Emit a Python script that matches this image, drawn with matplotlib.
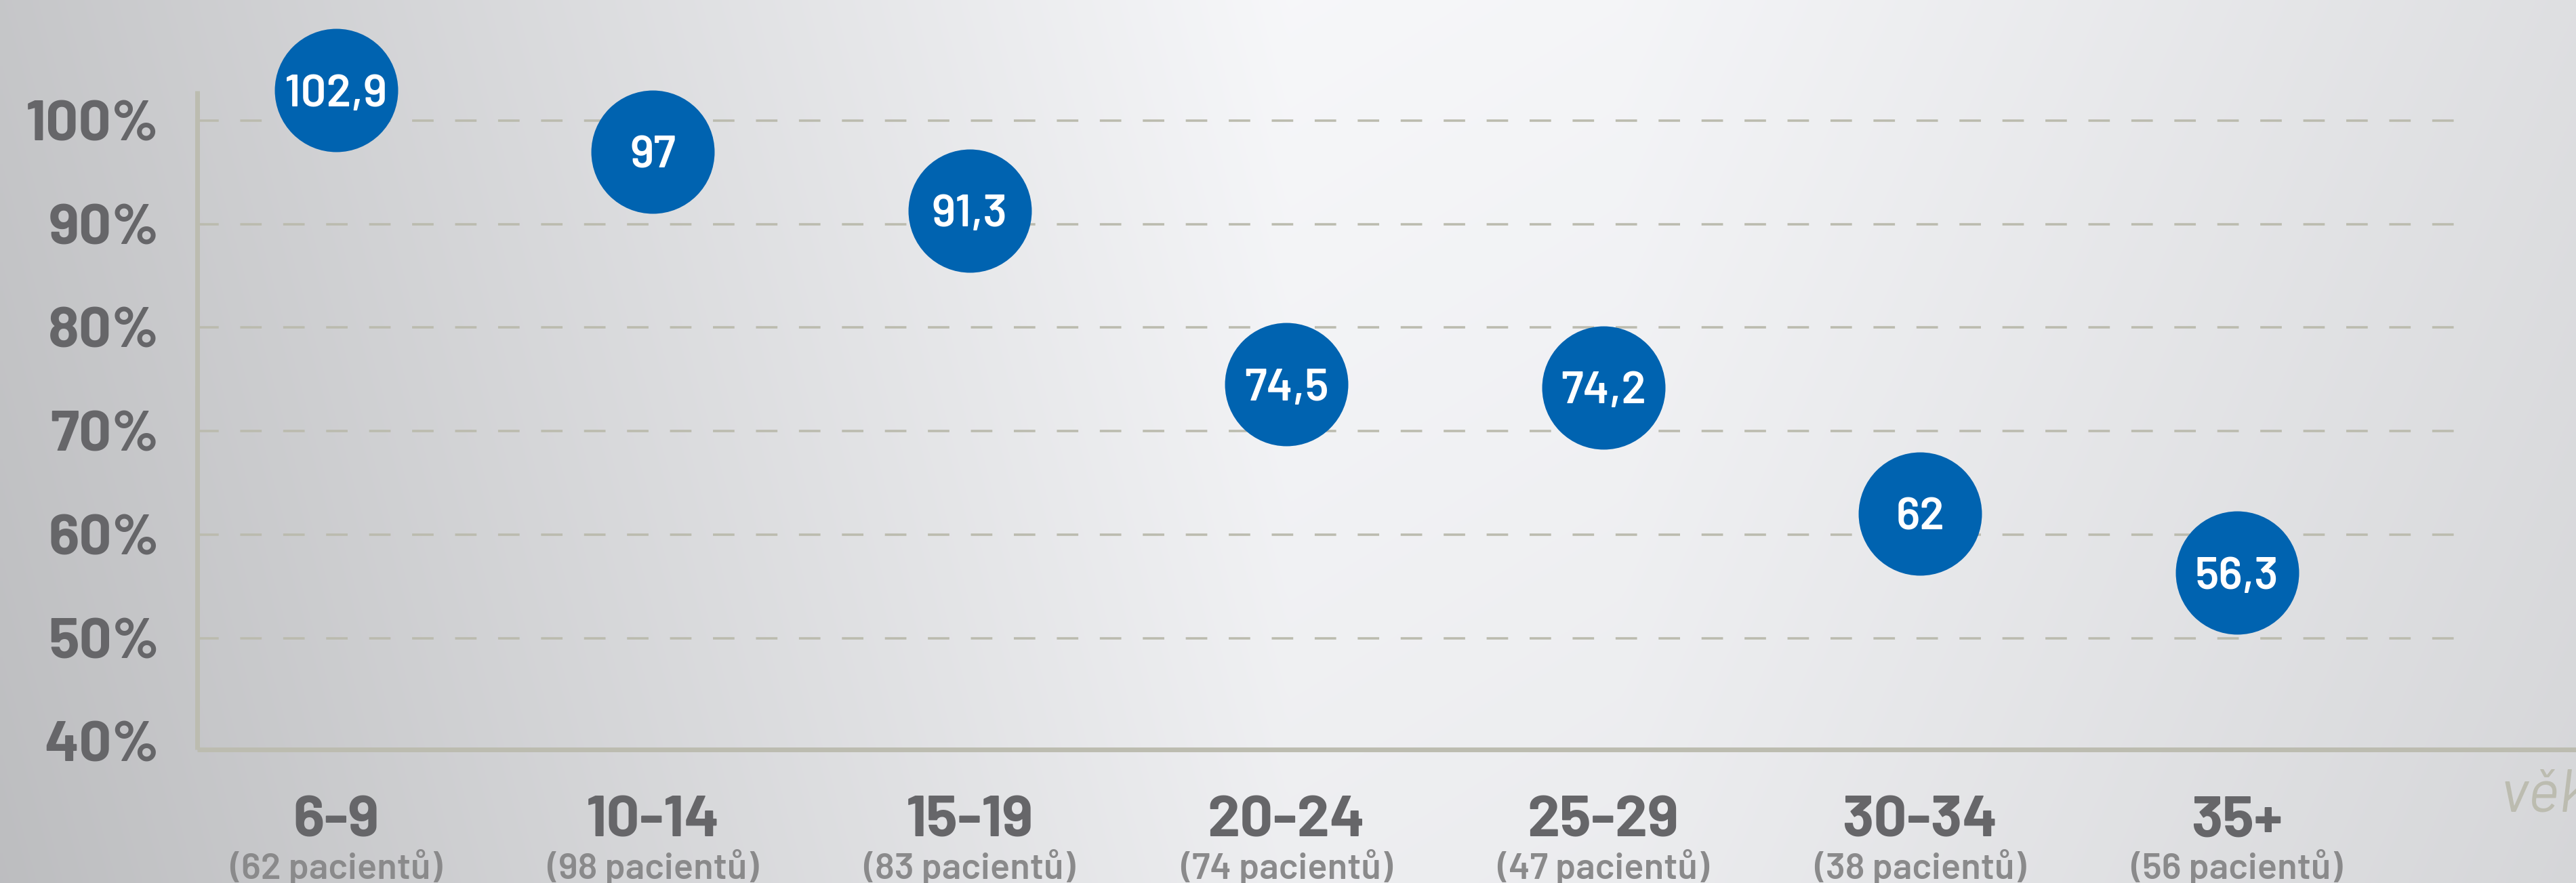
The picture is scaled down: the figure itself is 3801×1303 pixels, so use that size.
import numpy as np
import matplotlib
matplotlib.use("Agg")
import matplotlib.pyplot as plt
from matplotlib import font_manager as fm

# ---------------- data ----------------
categories = ["6-9", "10-14", "15-19", "20-24", "25-29", "30-34", "35+"]
patients = [62, 98, 83, 74, 47, 38, 56]
values = [102.9, 97, 91.3, 74.5, 74.2, 62, 56.3]
y_ticks = [40, 50, 60, 70, 80, 90, 100]
grid_levels = [50, 60, 70, 80, 90, 100]
axis_label = "věk"

# ---------------- fonts ----------------
avail = {f.name for f in fm.fontManager.ttflist}
def pick(*names):
    for n in names:
        if n in avail:
            return n
    return "DejaVu Sans"
FONT = pick("Barlow", "Barlow Semi Condensed", "Fira Sans", "Roboto")
plt.rcParams["font.family"] = [FONT, "DejaVu Sans"]

BLUE = "#0063b0"
AXC = "#bcbcb0"
GRIDC = "#bbbbae"
LBL = "#666669"
SUB = "#8a8a8b"

W, H, DPI = 3801, 1303, 100
fig = plt.figure(figsize=(W / DPI, H / DPI), dpi=DPI)

# ---------------- background gradient ----------------
bg = fig.add_axes([0, 0, 1, 1], zorder=-10)
gx = np.linspace(0, 1, 500)
gy = np.linspace(0, 1, 200)
GX, GY = np.meshgrid(gx, gy)
base = np.interp(GX, [0.0, 0.5, 0.63, 1.0], [0.776, 0.966, 0.958, 0.872])
Lum = base - 0.035 * GY
rgb = np.dstack([Lum, Lum + 0.003, Lum + 0.012]).clip(0, 1)
bg.imshow(rgb, extent=[0, 1, 0, 1], origin="upper", aspect="auto", interpolation="bilinear")
bg.set_axis_off()

# ---------------- main axes ----------------
left = 291 / W
bottom = 1 - 1105.5 / H
top = 1 - 134 / H
ax = fig.add_axes([left, bottom, 1 - left, top - bottom])
ax.patch.set_alpha(0)

x = np.arange(len(categories))
x0, x1 = -0.438, 7.07
ax.set_xlim(x0, x1)
ax.set_ylim(39.28, 102.86)

for s in ["top", "right"]:
    ax.spines[s].set_visible(False)
for s in ["left", "bottom"]:
    ax.spines[s].set_color(AXC)
    ax.spines[s].set_linewidth(5.0)
    ax.spines[s].set_capstyle("butt")

# dashed gridlines
for g in grid_levels:
    ax.plot([x0, 6.684], [g, g], color=GRIDC, lw=2.52, dashes=(9.06, 9.06),
            solid_capstyle="butt", dash_capstyle="butt", zorder=1)

# y ticks
ax.set_yticks(y_ticks, [f"{t}%" for t in y_ticks])
ax.tick_params(axis="y", length=0, pad=40.5, labelsize=61, labelcolor=LBL)
for t in ax.get_yticklabels():
    t.set_fontweight("bold")

# x ticks (drawn as texts below the axis)
ax.set_xticks(x, [""] * len(x))
ax.tick_params(axis="x", length=0)
xt = ax.get_xaxis_transform()
for xi, cat, n in zip(x, categories, patients):
    ax.text(xi, -0.1325, cat, transform=xt, ha="center", va="baseline",
            fontsize=62, fontweight="bold", color=LBL, clip_on=False)
    ax.text(xi, -0.1975, f"({n} pacientů)", transform=xt, ha="center", va="baseline",
            fontsize=39, fontweight="semibold", color=SUB, clip_on=False)

# axis label (partially cut at right edge, as in reference)
ax.text(6.832, -0.0952, axis_label, transform=xt, ha="left", va="baseline",
        fontsize=64, style="italic", color=AXC, clip_on=False)

# points
ax.plot(x, values, "o", ms=131, color=BLUE, mec="none", clip_on=False, zorder=3)
for xi, v in zip(x, values):
    ax.text(xi, v, f"{v:g}".replace(".", ","), ha="center", va="center_baseline",
            fontsize=48, fontweight="semibold", color="white", zorder=4, clip_on=False)

fig.savefig("out.png", dpi=DPI)
